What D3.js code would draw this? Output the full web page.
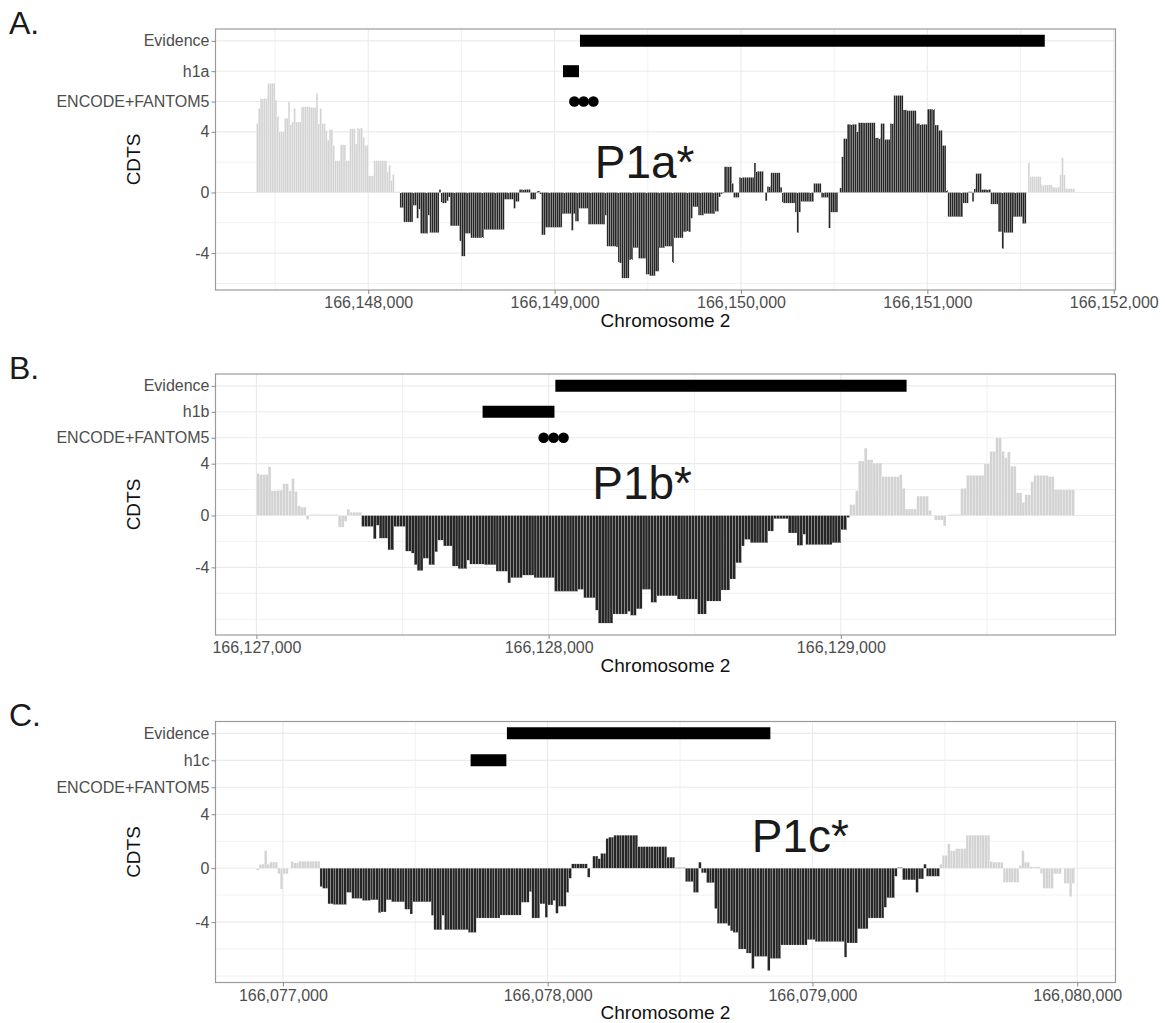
<!DOCTYPE html>
<html lang="en">
<head>
<meta charset="UTF-8">
<title>CDTS</title>
<script src="https://cdn.jsdelivr.net/npm/d3@7"></script>
<style>
    body { margin: 0; background: #fff; }
    text { font-family: "Liberation Sans", Arial, sans-serif; }
</style>
</head>
<body>
<svg id="chart" width="1165" height="1023"></svg>
<script>

// ---- data (10 bp bins, first bin starts at startX) ----
var binSize = 10;

var startA = 166147400;
var valuesA = [
    4.55, 5.55, 6.2, 6.2, 6.2, 6.2, 7.2, 7.2, 7.2, 7.2, 6.1, 5.05, 4.0, 4.0, 4.0, 4.9, 4.9, 6.0, 4.5, 4.65,
    5.55, 4.65, 4.65, 4.65, 5.65, 5.65, 5.65, 5.65, 5.65, 5.6, 5.6, 5.6, 6.55, 4.55, 5.55, 4.55, 4.55, 4.1, 3.45, 4.15,
    4.15, 3.1, 2.1, 2.1, 2.1, 3.15, 3.15, 3.15, 2.1, 2.1, 4.2, 4.2, 4.2, 3.2, 4.25, 4.25, 4.25, 3.65, 3.1, 3.1,
    1.1, 1.1, 1.1, 2.1, 2.1, 2.1, 2.1, 2.1, 2.1, 2.1, 1.35, 1.8, 0.8, 1.2, 0.05, 0.05, 0.05,
    -1.0, -1.0, -1.95, -1.95, -1.95, -1.95, -1.95, -0.85, -0.85, -1.7, -1.1, -2.7, -2.7, -2.7, -2.7, -1.5,
    -2.65, -2.65, -2.65, -2.65, -2.65, 0.2, -0.7, -0.7, -0.7, -0.55, -0.3, -2.2, -2.2, -2.2, -2.2, -2.2,
    -3.2, -4.2, -4.2, -2.7, -2.7, -2.7, -3.0, -3.0, -3.0, -3.0, -3.0, -3.0, -3.0,
    -2.45, -2.45, -2.45, -2.45, -2.45, -2.45, -2.45, -2.45, -2.45, -2.45, -2.45,
    -0.45, -0.45, -0.45, -0.45, -0.45, -1.05, -0.6, -0.6, 0.2, 0.2, 0.2, 0.2, 0.2, 0.2,
    -0.45, -0.45, -0.45, 0.1, 0.1, -0.1, -2.8, -2.8,
    -2.3, -2.3, -2.3, -2.3, -2.3, -2.3, -2.3, -2.3, -2.3, -1.4, -1.4, -1.4, -1.4, -1.4, -2.5, -1.4, -1.9, -1.9,
    -1.05, -1.05, -1.05, -1.05, -1.05, -2.1, -2.1, -2.1, -2.1, -2.1, -2.1, -2.1, -2.1, -2.1, -1.5,
    -3.55, -3.55, -3.55, -3.55, -3.55, -3.6, -4.65, -4.65, -5.65, -5.65, -5.65, -5.65, -4.45, -4.45,
    -3.65, -3.65, -3.65, -4.35, -4.35, -4.35, -4.35, -5.4, -5.4, -5.5, -5.5, -5.5, -5.2, -5.2,
    -3.65, -3.65, -3.65, -3.55, -3.55, -3.55, -3.55, -4.65, -3.0, -3.0, -3.0, -3.0, -3.0,
    -2.6, -2.6, -2.6, -2.6, -1.7, -0.95, -0.95, -0.95, -1.5, -1.5, -1.5,
    -1.4, -1.4, -1.4, -1.4, -1.4, -1.4, -1.25, -1.25, -0.3, -0.1, -0.05,
    1.7, 1.7, 1.7, 1.7, 0.6, -0.33, -0.33, -0.33, 1.0, 1.0, 1.0, 1.0, 1.0, 1.0, 1.0, 1.0, 1.95, 1.4, 1.4, 1.4, 1.4,
    0.0, -0.55, 0.4, 0.4, 1.3, 1.3, 1.3, 1.3, 1.3, 0.35,
    -0.7, -0.7, -0.7, -0.7, -0.7, -0.7, -0.7, -1.3, -2.65, -1.3, -0.6, -0.6, -0.6, -0.6, -0.6, -0.6, -0.6,
    0.6, 0.6, 0.6, 0.6, -0.33, -0.33, -0.33, -0.33, -2.35, -1.3, -1.3, -1.3, -1.3, 0.0, 0.3,
    2.35, 3.55, 3.55, 4.5, 4.5, 4.5, 4.5, 4.5, 4.0, 4.6, 4.6, 4.6, 4.6, 4.6, 4.6, 4.6, 4.6, 4.6,
    3.6, 3.6, 3.6, 4.55, 4.55, 3.5, 3.5, 3.5, 4.55, 4.55, 6.4, 6.4, 6.4, 6.4, 6.4, 5.45, 5.45,
    5.4, 5.4, 5.4, 5.4, 5.4, 4.55, 4.55, 4.5, 4.5, 4.5, 4.5, 5.5, 5.5, 5.5, 5.5, 4.45, 4.45, 4.1, 4.1, 3.1, 3.1, 0.15,
    -1.6, -1.6, -1.6, -1.6, -1.6, -1.6, -1.6, -1.6, -0.7, -0.7, -0.7, 0.05, 0.05, -0.6, 0.25, 1.25, 1.25, 1.25,
    0.2, 0.2, 0.2, 0.2, 0.2, -0.77, -0.77, -0.77, -0.77, -2.6, -2.6, -3.7, -2.65, -2.65, -2.65, -2.65, -2.65,
    -1.6, -1.6, -1.6, -1.6, -1.6, -2.05, -2.05, 0.0,
    2.0, 1.05, 1.05, 1.05, 1.05, 1.05, 1.05, 0.5, 0.5, 0.5, 0.5, 0.5, 0.5, 0.35, 0.35, 0.35, 0.35, 1.15, 2.3, 1.15,
    0.25, 0.25, 0.25, 0.25, 0.25
];
var coreA = [166148170, 166151540];
var evidenceA = [166149136, 166151630];
var promoterA = [166149045, 166149131];
var dotsA = [166149106, 166149156, 166149208];
var xTicksA = [166148000, 166149000, 166150000, 166151000, 166152000];
var yLabelsA = ['-4', '0', '4', 'ENCODE+FANTOM5', 'h1a', 'Evidence'];
var tagA = ['P1a*', 166149483, 0.94];

var startB = 166127000;
var valuesB = [
    3.25, 3.15, 3.15, 3.15, 3.75, 1.9, 1.9, 1.95, 1.95, 2.45, 2.45, 1.9, 2.85, 1.85, 0.75, 0.65, 0.65, -0.3,
    0.08, 0.08, 0.08, 0.08, 0.08, 0.08, 0.08, 0.08, 0.08, 0.08, -0.9, -0.9, -0.45, 0.5, 0.25, 0.25, 0.25, 0.25,
    -0.85, -0.85, -0.85, -0.85, -1.8, -0.75, -1.75, -1.75, -1.75, -2.65, -2.65, -0.85, -0.85, -0.85, -0.85,
    -2.75, -2.75, -2.9, -3.8, -4.25, -4.25, -3.3, -3.3, -3.8, -3.8, -2.8, -1.9, -1.9, -2.35, -2.35, -2.35,
    -3.9, -3.9, -4.1, -4.1, -4.1, -3.45, -3.75, -3.75, -3.75, -3.75, -3.75, -3.8, -3.8, -3.8, -3.8,
    -4.3, -4.3, -4.3, -4.3, -5.2, -4.8, -4.8, -4.8, -4.8, -4.6, -4.6, -4.6, -4.6,
    -4.8, -4.8, -4.8, -4.8, -4.8, -4.8, -4.8, -5.85, -5.85, -5.85, -5.85, -5.85, -5.85, -5.85, -5.85,
    -5.7, -5.7, -6.35, -6.35, -6.35, -6.35, -7.3, -8.3, -8.3, -8.3, -8.3, -8.3, -7.6, -7.6, -7.6, -7.6, -7.6,
    -7.4, -7.7, -7.7, -7.2, -7.2, -5.7, -5.7, -5.7, -6.7, -6.7, -6.2, -6.2, -6.2, -6.2, -6.2, -6.2, -6.2,
    -6.45, -6.45, -6.45, -6.45, -6.45, -6.45, -6.45, -7.6, -7.6, -7.6, -6.6, -6.6, -6.6, -6.6, -6.6,
    -5.75, -5.75, -5.75, -4.9, -4.9, -3.65, -3.65, -2.35, -1.85, -1.85, -2.1, -2.1, -2.1, -2.1, -2.1, -2.1,
    -1.2, -1.2, -0.25, -0.25, -0.25, -0.25, -0.25, -1.35, -1.35, -1.35, -2.3, -2.3, -1.45,
    -2.25, -2.25, -2.25, -2.25, -2.25, -2.25, -2.25, -2.25, -2.25, -2.1, -2.1, -2.1, -1.1, -1.1, -0.15,
    0.85, 0.85, 1.9, 4.2, 4.2, 5.2, 4.3, 4.3, 4.05, 4.05, 4.05, 3.0, 3.0, 3.0, 3.0, 3.0, 3.0, 3.15, 2.1,
    0.5, 0.5, 0.5, 0.5, 1.5, 1.5, 1.5, 1.5, 0.4, 0.0, -0.35, -0.35, -0.35, -0.8, 0.0, 0.08, 0.08, 0.08, 0.08,
    2.1, 2.1, 3.1, 3.1, 3.1, 3.1, 3.1, 3.1, 4.0, 4.0, 4.95, 4.95, 6.0, 6.0, 4.95, 4.45, 4.9, 3.8, 3.8,
    1.75, 1.75, 1.0, 1.6, 1.6, 2.6, 3.1, 3.1, 3.1, 3.1, 3.1, 3.0, 3.0, 2.0, 2.0, 2.0, 2.0, 2.0, 2.0, 2.0
];
var coreB = [166127360, 166129030];
var evidenceB = [166128023, 166129225];
var promoterB = [166127774, 166128020];
var dotsB = [166127983, 166128017, 166128051];
var xTicksB = [166127000, 166128000, 166129000];
var yLabelsB = ['-4', '0', '4', 'ENCODE+FANTOM5', 'h1b', 'Evidence'];
var tagB = ['P1b*', 166128320, 1.3];

var startC = 166076900;
var valuesC = [
    -0.15, 0.27, 0.3, 1.3, 0.3, 0.45, 0.45, 0.45, -0.42, -1.55, -0.42, -0.42, 0.0, 0.5, 0.4, 0.4,
    0.52, 0.52, 0.52, 0.52, 0.52, 0.52, 0.52, 0.52,
    -1.37, -1.5, -1.5, -2.65, -2.65, -2.7, -2.7, -2.7, -2.7, -2.7, -1.8, -1.8, -2.25, -2.25, -2.25, -2.25,
    -2.4, -2.4, -2.4, -2.35, -2.35, -2.35, -3.3, -3.25, -3.25, -2.35, -2.35, -2.5, -2.5, -2.5, -2.5, -2.5,
    -3.05, -3.05, -3.4, -2.5, -2.5, -2.5, -2.5, -2.5, -2.5, -2.5, -3.5, -4.57, -4.57, -4.57, -3.5,
    -4.57, -4.57, -4.57, -4.57, -4.57, -4.57, -4.57, -4.57, -4.57, -4.77, -4.77, -4.77,
    -3.7, -3.7, -3.7, -3.7, -3.7, -3.7, -3.7, -3.7, -3.7, -3.48, -3.48, -3.48, -3.48, -3.48, -3.48, -3.48, -3.48,
    -2.53, -2.53, -2.53, -1.74, -3.7, -3.7, -3.7, -2.65, -2.65, -3.65, -2.73, -2.73, -2.4, -3.35,
    -2.83, -2.83, -2.83, -1.8, -0.75, 0.32, 0.32, 0.32, 0.32, 0.32, 0.32, -0.67, 0.0, 0.9, 0.9, 0.7, 1.1, 1.1,
    2.2, 2.3, 2.3, 2.45, 2.45, 2.45, 2.45, 2.45, 2.45, 2.45, 2.45, 2.45,
    1.6, 1.6, 1.6, 1.6, 1.6, 1.6, 1.6, 1.6, 1.6, 1.6, 1.6, 0.82, 0.82, 0.82, 0.03, 0.03, 0.03, 0.03,
    -1.0, -1.0, -1.0, -1.8, -1.8, 0.45, -0.35, -0.35, -1.08, -1.08, -1.08, -3.0, -4.1, -4.1, -4.1, -4.1,
    -4.27, -4.65, -4.77, -4.77, -6.0, -6.0, -6.0, -6.3, -6.3, -7.45, -6.55, -6.55, -6.55, -6.55, -6.55,
    -7.6, -6.7, -6.7, -6.7, -6.7, -5.7, -5.7, -5.7, -5.7, -5.7, -5.7, -5.7, -5.7, -5.7, -5.7, -5.3, -5.3, -5.3,
    -5.45, -5.45, -5.45, -5.45, -5.45, -5.45, -5.45, -5.45, -5.45, -5.45, -5.45, -6.6, -5.55, -5.55, -5.55, -5.55,
    -4.5, -4.5, -4.5, -4.5, -3.7, -3.7, -3.7, -3.7, -3.7, -3.7, -2.9, -2.2, -2.2, -2.2, -0.6, 0.05, 0.05,
    -0.87, -0.87, -0.87, -0.87, -0.87, -1.8, -0.8, -0.8, 0.3, -0.6, -0.6, -0.6, -0.6, -0.6,
    0.3, 0.95, 0.95, 1.8, 1.3, 1.3, 1.45, 1.45, 1.45, 1.45, 2.45, 2.45, 2.45, 2.45, 2.45, 2.45, 2.45, 2.45, 2.45,
    0.5, 0.45, 0.45, 0.45, 0.45, -1.05, -1.05, -1.05, -1.05, -1.05, -1.05, 0.2, 1.3, 0.45, 0.45,
    0.1, 0.1, 0.1, 0.1, -0.4, -1.5, -1.5, -1.5, -1.5, -0.42, -0.42, -0.42, 0.0, -1.12, -1.12, -2.1, -1.12
];
var coreC = [166077140, 166079480];
var evidenceC = [166077846, 166078841];
var promoterC = [166077709, 166077844];
var dotsC = [];
var xTicksC = [166077000, 166078000, 166079000, 166080000];
var yLabelsC = ['-4', '0', '4', 'ENCODE+FANTOM5', 'h1c', 'Evidence'];
var tagC = ['P1c*', 166078954, 1.19];

var yTicks = [-4, 0, 4, 6, 8, 10];


var svg = d3.select('#chart');
var left = 215.5, right = 1115.5, panelH = 261;

var panels = [
    {letter: 'A.', top: 29, start: startA, values: valuesA, core: coreA, evidence: evidenceA,
     promoter: promoterA, dots: dotsA, ticks: xTicksA, labels: yLabelsA, tag: tagA},
    {letter: 'B.', top: 374, start: startB, values: valuesB, core: coreB, evidence: evidenceB,
     promoter: promoterB, dots: dotsB, ticks: xTicksB, labels: yLabelsB, tag: tagB},
    {letter: 'C.', top: 721.5, start: startC, values: valuesC, core: coreC, evidence: evidenceC,
     promoter: promoterC, dots: dotsC, ticks: xTicksC, labels: yLabelsC, tag: tagC}
];

panels.forEach(drawPanel);

function drawPanel(p) {
    var top = p.top, bottom = p.top + panelH;
    var g = svg.append('g');

    // ggplot-like 5% expansion
    var x0 = p.start, x1 = p.start + p.values.length * binSize;
    var xr = x1 - x0;
    var x = d3.scaleLinear().domain([x0 - 0.05 * xr, x1 + 0.05 * xr]).range([left, right]);
    var ymin = d3.min(p.values), ymax = 10;
    var yr = ymax - ymin;
    var y = d3.scaleLinear().domain([ymin - 0.05 * yr, ymax + 0.05 * yr]).range([bottom, top]);

    // grid
    var xd = x.domain();
    var gridX = d3.range(Math.ceil(xd[0] / 500) * 500, xd[1], 500);
    g.selectAll('.gx').data(gridX).enter().append('line')
        .attr('x1', function(d){ return x(d) }).attr('x2', function(d){ return x(d) })
        .attr('y1', top).attr('y2', bottom)
        .attr('stroke', '#ebebeb')
        .attr('stroke-width', function(d){ return d % 1000 === 0 ? 1.1 : 0.7 });

    var yd = y.domain();
    var gridY = d3.range(-8, 11, 2).filter(function(d){ return d > yd[0] && d < yd[1] });
    g.selectAll('.gy').data(gridY).enter().append('line')
        .attr('x1', left).attr('x2', right)
        .attr('y1', function(d){ return y(d) }).attr('y2', function(d){ return y(d) })
        .attr('stroke', '#ebebeb')
        .attr('stroke-width', function(d){ return yTicks.indexOf(d) >= 0 ? 1.1 : 0.7 });

    // bars
    g.selectAll('.bar').data(p.values).enter().append('rect')
        .attr('x', function(d, i){ return x(p.start + i * binSize) })
        .attr('width', function(d, i){ return x(p.start + (i + 1) * binSize) - x(p.start + i * binSize) })
        .attr('y', function(d){ return y(Math.max(d, 0)) })
        .attr('height', function(d){ return Math.abs(y(d) - y(0)) })
        .attr('fill', function(d, i){
            var pos = p.start + i * binSize;
            return (pos >= p.core[0] && pos < p.core[1]) ? '#262626' : '#d3d3d3';
        })
        .attr('stroke', '#fff')
        .attr('stroke-width', 0.22);

    // evidence tracks
    g.append('line')
        .attr('x1', x(p.evidence[0])).attr('x2', x(p.evidence[1]))
        .attr('y1', y(10)).attr('y2', y(10))
        .attr('stroke', '#000').attr('stroke-width', 12);
    g.append('line')
        .attr('x1', x(p.promoter[0])).attr('x2', x(p.promoter[1]))
        .attr('y1', y(8)).attr('y2', y(8))
        .attr('stroke', '#000').attr('stroke-width', 12);
    g.selectAll('.dot').data(p.dots).enter().append('circle')
        .attr('cx', function(d){ return x(d) })
        .attr('cy', y(6))
        .attr('r', 5.3)
        .attr('fill', '#000');

    // promoter tag
    g.append('text')
        .attr('x', x(p.tag[1])).attr('y', y(p.tag[2]))
        .attr('text-anchor', 'middle')
        .attr('font-size', 46)
        .attr('fill', '#1a1a1a')
        .text(p.tag[0]);

    // frame
    g.append('rect')
        .attr('x', left).attr('y', top)
        .attr('width', right - left).attr('height', panelH)
        .attr('fill', 'none').attr('stroke', '#9a9a9a').attr('stroke-width', 1.2);

    // axes
    var xAxis = d3.axisBottom(x).tickValues(p.ticks).tickFormat(d3.format(',')).tickSize(4).tickPadding(3);
    var ax = g.append('g').attr('transform', 'translate(0,' + bottom + ')').call(xAxis);
    ax.select('.domain').remove();
    ax.selectAll('line').attr('stroke', '#8a8a8a');
    ax.selectAll('text').attr('font-size', 16).attr('fill', '#4d4d4d')
        .attr('font-family', '"Liberation Sans", Arial, sans-serif');

    var yAxis = d3.axisLeft(y).tickValues(yTicks)
        .tickFormat(function(d, i){ return p.labels[i] }).tickSize(4).tickPadding(2);
    var ay = g.append('g').attr('transform', 'translate(' + left + ',0)').call(yAxis);
    ay.select('.domain').remove();
    ay.selectAll('line').attr('stroke', '#8a8a8a');
    ay.selectAll('text').attr('font-size', 16).attr('fill', '#4d4d4d')
        .attr('font-family', '"Liberation Sans", Arial, sans-serif');

    // titles
    g.append('text')
        .attr('x', (left + right) / 2).attr('y', bottom + 36.5)
        .attr('text-anchor', 'middle').attr('font-size', 19).attr('fill', '#111')
        .text('Chromosome 2');
    g.append('text')
        .attr('transform', 'translate(140,' + (top + panelH / 2) + ') rotate(-90)')
        .attr('text-anchor', 'middle').attr('font-size', 19).attr('fill', '#111')
        .text('CDTS');
    g.append('text')
        .attr('x', 9).attr('y', top + 4.5)
        .attr('font-size', 32).attr('fill', '#1a1a1a')
        .text(p.letter);
}

</script>
</body>
</html>
